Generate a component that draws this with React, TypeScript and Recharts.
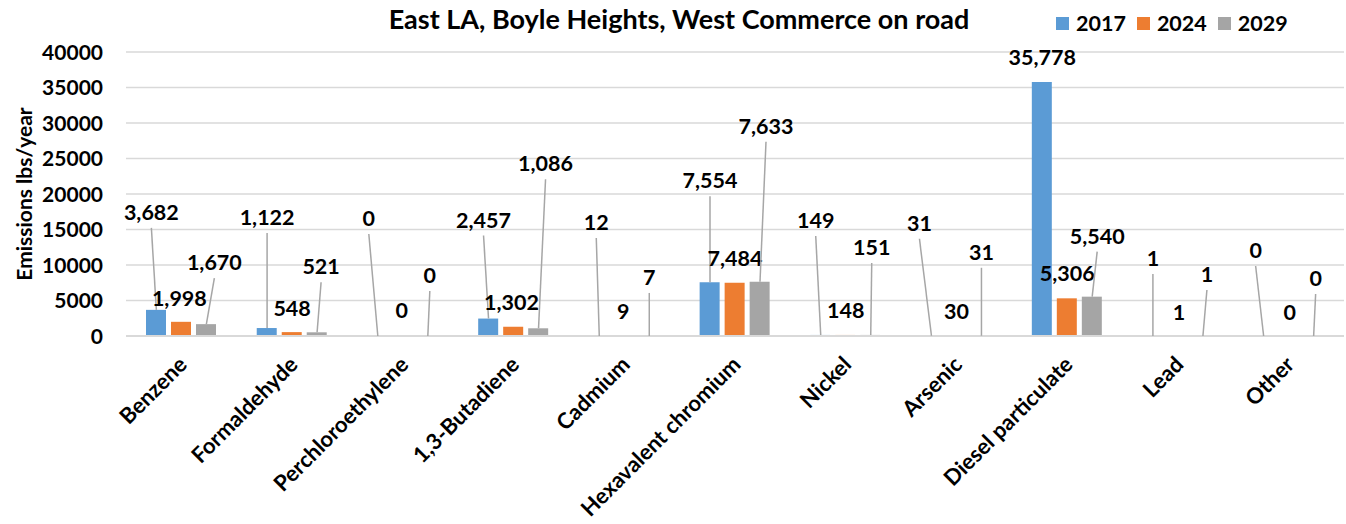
import React from 'react';
import { ComposedChart, Bar, Line, XAxis, YAxis, CartesianGrid, LabelList, Legend } from 'recharts';

const categories = [
  'Benzene',
  'Formaldehyde',
  'Perchloroethylene',
  '1,3-Butadiene',
  'Cadmium',
  'Hexavalent chromium',
  'Nickel',
  'Arsenic',
  'Diesel particulate',
  'Lead',
  'Other',
];
const values2017 = [3682, 1122, 0, 2457, 12, 7554, 149, 31, 35778, 1, 0];
const values2024 = [1998, 548, 0, 1302, 9, 7484, 148, 30, 5306, 1, 0];
const values2029 = [1670, 521, 0, 1086, 7, 7633, 151, 31, 5540, 1, 0];
const seriesNames = ['2017', '2024', '2029'];
const seriesColors = ['#5B9BD5', '#ED7D31', '#A5A5A5'];
const yTicks = [0, 5000, 10000, 15000, 20000, 25000, 30000, 35000, 40000];
const chartTitle = 'East LA, Boyle Heights, West Commerce on road';
const yAxisTitle = 'Emissions lbs/year';

// bar geometry (px)
const BAR_SIZE = 20;
const BAR_GAP = 5;
const BAR_STEP = BAR_SIZE + BAR_GAP;

// data-label placement (pixel offset of label centre from bar top-centre)
const labelOffsets2017: [number, number][] = [
  [-5, -98], [0, -111], [-9, -118], [-5, -99], [-3, -114], [0, -102],
  [-5, -115], [-12, -113], [0, -25], [0, -78], [-8, -86],
];
const labelOffsets2024: [number, number][] = [
  [-2, -24], [0, -24], [-1, -26], [-2, -25], [-1, -25], [0, -25],
  [0, -25], [0, -25], [0, -25], [1, -24], [1, -24],
];
const labelOffsets2029: [number, number][] = [
  [8, -62], [4, -66], [2, -61], [7, -165], [0, -59], [6, -156],
  [1, -88], [0, -84], [5, -61], [4, -62], [2, -58],
];

const data = categories.map((name, i) => ({
  name,
  s2017: values2017[i],
  s2024: values2024[i],
  s2029: values2029[i],
}));

const FONT = "Lato, 'Liberation Sans', Arial, sans-serif";

// label renderer: receives the category-centre point of a hidden line series,
// shifts to the matching bar centre and draws the value with a leader line.
function makeLabel(offsets: [number, number][], barShift: number) {
  return (props: any) => {
    const { x, y, value, index } = props;
    const bx = Number(x) + barShift;
    const by = Number(y);
    const [dx, dy] = offsets[index] || [0, -25];
    const lx = bx + dx;
    const ly = by + dy;
    const showLine = dy < -40;
    return (
      <g>
        {showLine && (
          <line x1={lx} y1={ly + 16} x2={bx} y2={by} stroke="#A6A6A6" strokeWidth={1.5} />
        )}
        <text
          x={lx}
          y={ly}
          textAnchor="middle"
          dominantBaseline="central"
          fontFamily={FONT}
          fontWeight={700}
          fontSize={21.5}
          fill="#000"
        >
          {Number(value).toLocaleString('en-US')}
        </text>
      </g>
    );
  };
}

const CategoryTick = (props: any) => {
  const { x, y, payload } = props;
  return (
    <g transform={`translate(${x + 7},${y + 30})`}>
      <text
        transform="rotate(-45)"
        textAnchor="end"
        fontFamily={FONT}
        fontWeight={700}
        fontSize={22}
        fill="#000"
      >
        {payload.value}
      </text>
    </g>
  );
};

const ValueTick = (props: any) => {
  const { x, y, payload } = props;
  return (
    <text
      x={x - 23}
      y={y}
      dy="0.36em"
      textAnchor="end"
      fontFamily={FONT}
      fontWeight={700}
      fontSize={21}
      fill="#000"
    >
      {payload.value}
    </text>
  );
};

const LegendContent = () => (
  <div style={{ display: 'flex', alignItems: 'center', fontFamily: FONT, fontWeight: 700, fontSize: 21.5 }}>
    {seriesNames.map((n, i) => (
      <div key={n} style={{ display: 'flex', alignItems: 'center', marginRight: 11 }}>
        <span style={{ display: 'inline-block', width: 13, height: 13, background: seriesColors[i], marginRight: 7 }} />
        <span style={{ color: '#000' }}>{n}</span>
      </div>
    ))}
  </div>
);

const seriesKeys = ['s2017', 's2024', 's2029'];
const seriesOffsets = [labelOffsets2017, labelOffsets2024, labelOffsets2029];

export default function App() {
  return (
    <div style={{ position: 'absolute', left: 0, top: 0, width: 1346, height: 524, background: '#fff' }}>
      <div
        style={{
          position: 'absolute',
          left: 0,
          top: 3,
          width: 1358,
          textAlign: 'center',
          fontFamily: FONT,
          fontWeight: 700,
          fontSize: 27,
          lineHeight: '32px',
          color: '#000',
          zIndex: 2,
          whiteSpace: 'nowrap',
        }}
      >
        {chartTitle}
      </div>
      <ComposedChart
        width={1346}
        height={524}
        data={data}
        margin={{ top: 52, right: 2, left: 0, bottom: 0 }}
        barGap={BAR_GAP}
        barSize={BAR_SIZE}
      >
        <CartesianGrid vertical={false} stroke="#D9D9D9" strokeWidth={1.5} />
        <XAxis
          dataKey="name"
          interval={0}
          height={188}
          tickSize={0}
          tickMargin={0}
          tickLine={false}
          axisLine={{ stroke: '#D9D9D9', strokeWidth: 2 }}
          tick={<CategoryTick />}
        />
        <YAxis
          width={126}
          domain={[0, 40000]}
          ticks={yTicks}
          interval={0}
          tickSize={0}
          tickMargin={0}
          axisLine={false}
          tickLine={false}
          tick={<ValueTick />}
          label={{
            content: () => (
              <text
                transform="translate(23,194) rotate(-90)"
                textAnchor="middle"
                dominantBaseline="central"
                fontFamily={FONT}
                fontWeight={700}
                fontSize={21}
                fill="#000"
              >
                {yAxisTitle}
              </text>
            ),
          }}
        />
        <Legend
          layout="horizontal"
          verticalAlign="middle"
          align="center"
          content={<LegendContent />}
          wrapperStyle={{ position: 'absolute', top: 10, left: 1056, width: 285, height: 28 }}
        />
        {seriesKeys.map((k, i) => (
          <Bar
            key={k}
            dataKey={k}
            name={seriesNames[i]}
            fill={seriesColors[i]}
            isAnimationActive={false}
          />
        ))}
        {seriesKeys.map((k, i) => (
          <Line
            key={`lbl-${k}`}
            dataKey={k}
            stroke="none"
            dot={false}
            activeDot={false}
            legendType="none"
            isAnimationActive={false}
          >
            <LabelList dataKey={k} content={makeLabel(seriesOffsets[i], (i - 1) * BAR_STEP)} />
          </Line>
        ))}
      </ComposedChart>
    </div>
  );
}
